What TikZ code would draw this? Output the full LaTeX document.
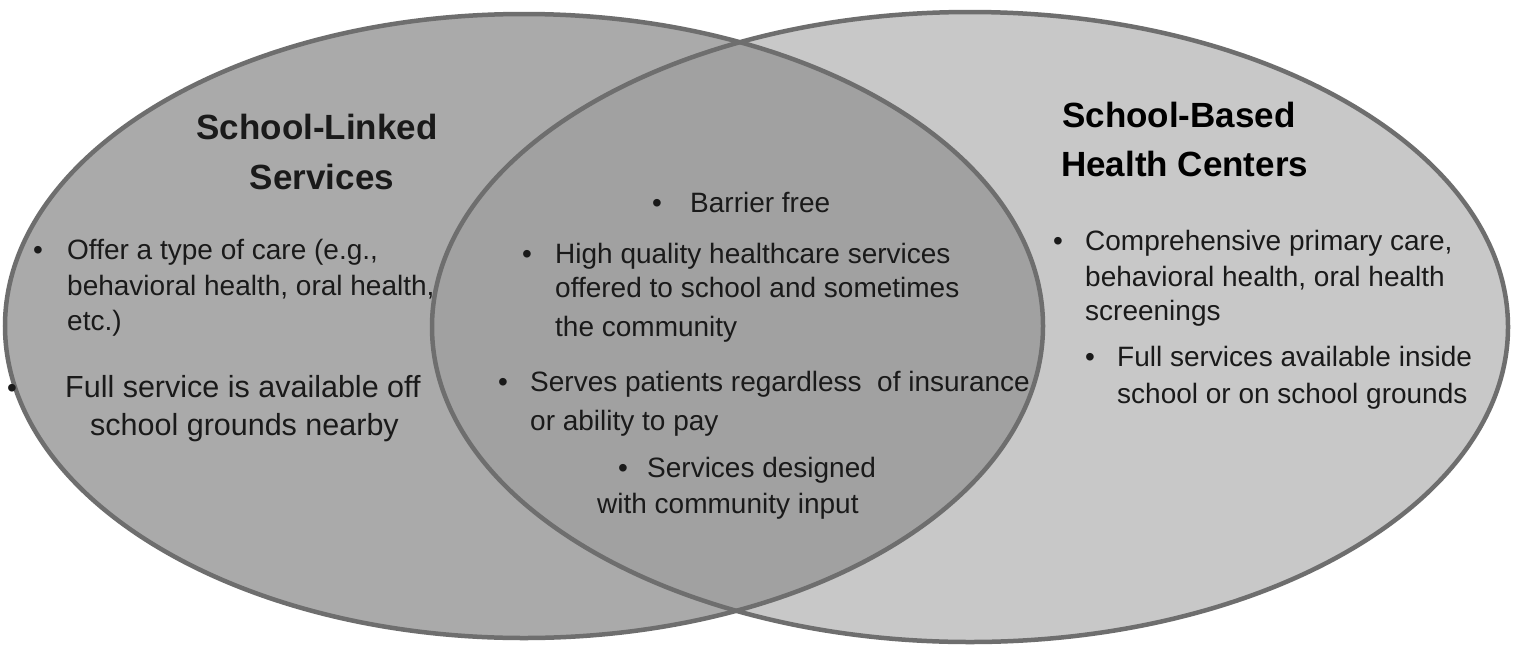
\documentclass[tikz,border=0pt]{standalone}
\usepackage{fontspec}
\setmainfont{Liberation Sans}
\definecolor{leftfill}{HTML}{AAAAAA}
\definecolor{rightfill}{HTML}{C8C8C8}
\definecolor{midfill}{HTML}{A1A1A1}
\definecolor{rimcol}{HTML}{6E6E6E}
\definecolor{inkcol}{HTML}{1A1A1A}
\begin{document}
\begin{tikzpicture}[x=1pt,y=-1pt,
  txt/.style={anchor=base west,inner sep=0pt,text=inkcol,font=\fontsize{28}{34}\selectfont},
  bigtxt/.style={anchor=base west,inner sep=0pt,text=inkcol,font=\fontsize{30.5}{36}\selectfont},
  bul/.style={anchor=base,inner sep=0pt,text=inkcol,font=\fontsize{28}{34}\selectfont},
  head/.style={anchor=base,inner sep=0pt,text=inkcol,font=\fontsize{35}{40}\selectfont\bfseries},
  headw/.style={anchor=base west,inner sep=0pt,text=black,font=\fontsize{35}{40}\selectfont\bfseries},
  rim/.style={draw=rimcol,line width=4.5pt}]
\useasboundingbox (0,0) rectangle (1515,646);
\fill[white] (0,0) rectangle (1515,646);
% circles
\fill[leftfill] (524,326) ellipse [x radius=519pt, y radius=312pt];
\fill[rightfill] (970,327) ellipse [x radius=538pt, y radius=315pt];
\begin{scope}
  \clip (524,326) ellipse [x radius=519pt, y radius=312pt];
  \fill[midfill] (970,327) ellipse [x radius=538pt, y radius=315pt];
\end{scope}
\draw[rim] (970,327) ellipse [x radius=538pt, y radius=315pt];
\draw[rim] (524,326) ellipse [x radius=519pt, y radius=312pt];
% left set
\node[head] (lh1) at (317,139) {School-Linked};
\node[head] (lh2) at (322,189) {Services};
\node[bul] (lb1) at (38,259) {•};
\node[txt] (l11) at (67,259) {Offer a type of care (e.g.,};
\node[txt] (l12) at (67,295) {behavioral health, oral health,};
\node[txt] (l13) at (67,330) {etc.)};
\node[bul] (lb2) at (12,397) {•};
\node[bigtxt] (l21) at (65,397) {Full service is available off};
\node[bigtxt] (l22) at (90,435) {school grounds nearby};
% middle
\node[bul] (mb1) at (657,212) {•};
\node[txt] (m11) at (690,212) {Barrier free};
\node[bul] (mb2) at (527,263) {•};
\node[txt] (m21) at (555,263) {High quality healthcare services};
\node[txt] (m22) at (555,297) {offered to school and sometimes};
\node[txt] (m23) at (555,336) {the community};
\node[bul] (mb3) at (503,391) {•};
\node[txt] (m31) at (530,391) {Serves patients regardless\ \ of insurance};
\node[txt] (m32) at (530,430) {or ability to pay};
\node[bul] (mb4) at (623,477) {•};
\node[txt] (m41) at (647,477) {Services designed};
\node[txt] (m42) at (597,513) {with community input};
% right set
\node[headw] (rh1) at (1062,127) {School-Based};
\node[headw] (rh2) at (1061,176) {Health Centers};
\node[bul] (rb1) at (1058,250) {•};
\node[txt] (r11) at (1085,250) {Comprehensive primary care,};
\node[txt] (r12) at (1085,286) {behavioral health, oral health};
\node[txt] (r13) at (1085,320) {screenings};
\node[bul] (rb2) at (1090,366) {•};
\node[txt] (r21) at (1117,366) {Full services available inside};
\node[txt] (r22) at (1117,403) {school or on school grounds};
\end{tikzpicture}
\end{document}
